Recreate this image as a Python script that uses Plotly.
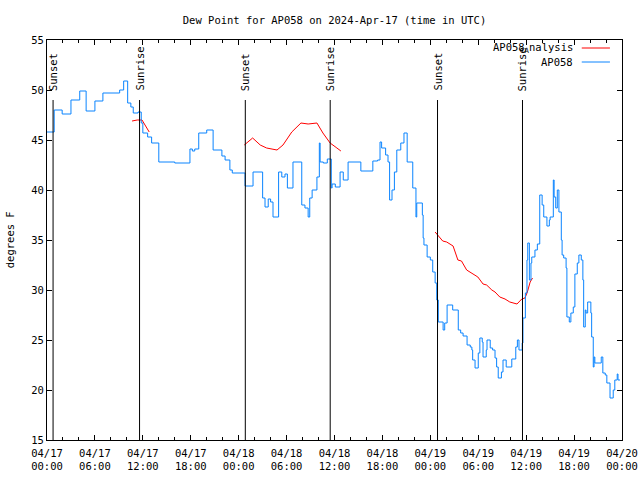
import datetime as dt
import plotly.graph_objects as go

START = dt.datetime(2024, 4, 17, 0, 0)

# Observed dew point (hours since 2024-04-17 00:00 UTC, degrees F)
obs_hours = [0.0, 0.9, 1.9, 3.0, 4.1, 4.9, 6.0, 7.0, 9.1, 9.6, 10.1, 10.5, 10.8, 11.4, 11.8,
             12.0, 12.6, 13.1, 14.0, 16.0, 17.9, 18.2, 18.5, 19.0, 20.0, 20.8, 21.9, 22.3,
             22.9, 23.2, 24.8, 25.8, 27.0, 27.3, 27.7, 28.0, 28.3, 29.0, 29.4, 29.8, 30.1,
             30.8, 31.9, 32.3, 32.7, 32.9, 33.2, 33.8, 34.1, 34.2, 34.6, 35.1, 35.6, 35.7,
             36.1, 36.7, 37.1, 37.7, 39.3, 40.8, 41.4, 41.7, 41.9, 42.4, 42.7, 42.9, 43.2,
             43.5, 43.8, 44.3, 44.7, 45.1, 45.8, 46.2, 46.3, 47.0, 47.1, 47.2, 47.6, 48.0,
             48.3, 48.6, 48.8, 49.0, 49.6, 49.8, 50.1, 50.8, 51.5, 51.8, 52.1, 52.6, 53.0,
             53.2, 53.3, 53.6, 54.0, 54.2, 54.5, 54.6, 55.0, 55.1, 55.5, 55.8, 56.1, 56.3,
             56.5, 56.9, 57.1, 57.5, 58.2, 58.7, 58.9, 59.1, 59.5, 59.6, 59.9, 60.1, 60.2,
             60.4, 60.6, 60.7, 61.1, 61.4, 61.7, 62.0, 62.2, 62.6, 62.9, 63.0, 63.4, 63.5,
             63.7, 63.9, 64.1, 64.4, 64.5, 64.7, 65.0, 65.1, 65.4, 65.6, 65.9, 66.1, 66.4,
             66.6, 66.9, 67.1, 67.2, 67.4, 67.5, 67.7, 68.1, 68.2, 68.4, 68.5, 68.6, 69.4,
             69.6, 69.9, 70.1, 70.5, 70.9, 71.1, 71.4, 71.5, 71.75]
obs_values = [45.8, 48.0, 47.6, 49.0, 49.9, 47.9, 48.9, 49.7, 50.0, 50.9, 48.7, 48.3, 47.7, 47.8, 46.7,
              45.7, 45.3, 44.7, 42.8, 42.7, 44.1, 43.9, 44.1, 45.7, 46.0, 44.0, 43.4, 43.0,
              42.0, 41.7, 40.4, 41.8, 39.2, 38.3, 39.1, 38.8, 37.3, 41.8, 41.3, 41.6, 40.2,
              42.8, 38.5, 38.2, 37.3, 39.2, 40.0, 41.3, 44.7, 42.8, 42.7, 43.1, 40.2, 40.6,
              40.3, 41.8, 41.0, 42.8, 41.9, 42.9, 43.0, 44.8, 44.2, 43.5, 42.8, 39.0, 40.0,
              41.8, 44.0, 44.7, 45.7, 42.8, 40.2, 37.3, 38.7, 37.5, 35.2, 34.5, 33.3, 33.0,
              31.8, 30.7, 29.0, 26.8, 26.0, 26.7, 28.5, 28.0, 26.0, 25.7, 25.4, 24.5, 24.3,
              24.0, 23.0, 22.2, 23.7, 25.2, 24.8, 23.3, 24.0, 25.0, 24.2, 24.0, 23.2, 22.3,
              21.2, 21.8, 23.0, 22.3, 23.1, 24.3, 25.0, 24.0, 24.7, 27.2, 29.7, 33.0, 34.7,
              31.0, 32.7, 33.3, 34.0, 34.6, 39.5, 38.5, 37.3, 36.4, 37.0, 37.3, 41.0, 39.3,
              38.2, 40.0, 37.8, 35.0, 33.5, 33.2, 32.2, 27.3, 26.8, 27.7, 28.3, 31.6, 32.7,
              33.5, 33.0, 31.0, 26.3, 28.0, 27.7, 28.8, 27.7, 25.3, 22.3, 23.3, 22.7, 23.3,
              21.7, 21.5, 20.7, 19.2, 20.0, 21.0, 21.6, 21.0, 21.0]

# Analysis dew point (three separate segments, None = gap)
ana_hours = [10.65, 11.3, 11.9, 12.3, 12.8, None,
             24.7, 25.75, 26.7, 27.5, 28.8, 29.55, 30.65, 31.8, 32.7, 33.8, 34.55, 35.45,
             36.3, 36.8, None,
             48.6, 48.95, 49.55, 50.05, 50.85, 51.45, 51.9, 52.55, 52.95, 53.6, 53.95, 54.6,
             55.05, 55.7, 56.1, 56.7, 57.35, 57.95, 58.6, 58.85, 59.45, 59.85, 60.15, 60.5, 60.8]
ana_values = [46.9, 47.0, 47.0, 46.5, 45.8, None,
              44.5, 45.2, 44.5, 44.2, 44.0, 44.5, 45.8, 46.7, 46.6, 46.7, 45.7, 44.7,
              44.2, 43.9, None,
              35.8, 35.5, 34.9, 34.8, 34.4, 33.0, 32.9, 32.0, 31.8, 31.4, 31.3, 30.6,
              30.5, 30.0, 29.8, 29.3, 29.1, 28.8, 28.6, 28.6, 29.1, 29.2, 29.8, 30.8, 31.2]

# Sun events (hours since start)
sun_hours = [0.76, 11.59, 24.83, 35.46, 48.9, 59.54]
sun_labels = ["Sunset", "Sunrise", "Sunset", "Sunrise", "Sunset", "Sunrise"]

tick_hours = list(range(0, 73, 6))
tick_labels = ["04/17<br>00:00", "04/17<br>06:00", "04/17<br>12:00", "04/17<br>18:00",
               "04/18<br>00:00", "04/18<br>06:00", "04/18<br>12:00", "04/18<br>18:00",
               "04/19<br>00:00", "04/19<br>06:00", "04/19<br>12:00", "04/19<br>18:00",
               "04/20<br>00:00"]


def to_t(h):
    return None if h is None else START + dt.timedelta(hours=h)


FONT = "DejaVu Sans Mono"
BLUE = "#0a84ff"
RED = "#ff0000"

fig = go.Figure()
fig.add_trace(go.Scatter(x=[to_t(h) for h in ana_hours], y=ana_values, mode="lines",
                         line=dict(color=RED, width=1), name="AP058_Analysis",
                         showlegend=False, connectgaps=False))
fig.add_trace(go.Scatter(x=[to_t(h) for h in obs_hours], y=obs_values, mode="lines",
                         line=dict(color=BLUE, width=1, shape="hv"), name="AP058",
                         showlegend=False))

shapes = []
annotations = []
for h, lab in zip(sun_hours, sun_labels):
    shapes.append(dict(type="line", xref="x", yref="y", x0=to_t(h), x1=to_t(h), y0=15, y1=49,
                       line=dict(color="black", width=1)))
    annotations.append(dict(x=to_t(h), y=49.7, xref="x", yref="y", text=lab, textangle=-90,
                            showarrow=False, xanchor="center", yanchor="bottom",
                            font=dict(family=FONT, size=10.5, color="black")))

# custom gnuplot-style legend
for name, col, yp in [("AP058<sub>A</sub>nalysis", RED, 0.98), ("AP058", BLUE, 0.945)]:
    annotations.append(dict(x=0.918, y=yp, xref="paper", yref="paper", text=name,
                            showarrow=False, xanchor="right", yanchor="middle",
                            font=dict(family=FONT, size=10.5, color="black")))
    shapes.append(dict(type="line", xref="paper", yref="paper", x0=0.930, x1=0.979,
                       y0=yp, y1=yp, line=dict(color=col, width=1)))

annotations.append(dict(x=-0.064, y=0.5, xref="paper", yref="paper", text="degrees F",
                        textangle=-90, showarrow=False, xanchor="center", yanchor="middle",
                        font=dict(family=FONT, size=10.5, color="black")))

fig.update_layout(
    width=640, height=480,
    margin=dict(l=47, r=18, t=40, b=40, autoexpand=False),
    paper_bgcolor="white", plot_bgcolor="white",
    title=dict(text="Dew Point for AP058 on 2024-Apr-17 (time in UTC)", x=0.5, xref="paper",
               y=1 - 20 / 480, yref="container", yanchor="middle", xanchor="center",
               font=dict(family=FONT, size=10.5, color="black"), automargin=False),
    shapes=shapes, annotations=annotations,
    showlegend=False,
    font=dict(family=FONT, size=10.5, color="black"),
)
fig.update_xaxes(
    type="date", range=[to_t(0), to_t(72)], automargin=False,
    tickmode="array", tickvals=[to_t(h) for h in tick_hours], ticktext=tick_labels,
    ticks="inside", ticklen=5, tickcolor="black", showline=True, linecolor="black",
    linewidth=1, mirror="allticks", showgrid=False, zeroline=False, ticklabelstandoff=3,
    minor=dict(ticks="inside", ticklen=3, tickcolor="black", dtick=2 * 3600 * 1000,
               tick0=to_t(0), showgrid=False),
    tickfont=dict(family=FONT, size=10.5),
)
fig.update_yaxes(
    range=[15, 55], tickmode="linear", tick0=15, dtick=5, automargin=False,
    ticks="inside", ticklen=5, tickcolor="black", showline=True, linecolor="black",
    linewidth=1, mirror="allticks", showgrid=False, zeroline=False,
    tickfont=dict(family=FONT, size=10.5),
)

fig.write_html("out.html", config={"displayModeBar": False},
               post_script="document.body.style.margin='0';document.body.style.overflow='hidden';")
